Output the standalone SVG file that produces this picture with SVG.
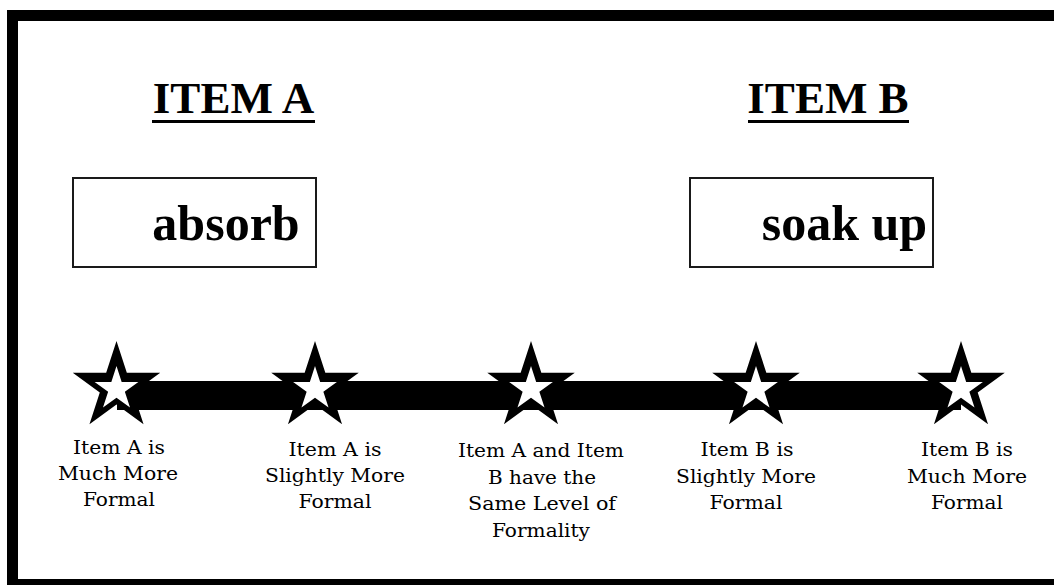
<svg xmlns="http://www.w3.org/2000/svg" xmlns:xlink="http://www.w3.org/1999/xlink" width="1054" height="585" viewBox="0 0 1054 585">
<style>
.head{font-family:"Liberation Serif","Times New Roman",serif;font-weight:bold;font-size:45px;fill:#000;text-anchor:middle}
.word{font-family:"Liberation Serif","Times New Roman",serif;font-weight:bold;font-size:50px;fill:#000;text-anchor:middle}
.lbl{font-family:"DejaVu Serif","Liberation Serif",serif;font-size:19px;fill:#000;text-anchor:middle}
.box{fill:#fff;stroke:#1a1a1a;stroke-width:2}
</style>
<defs>
<polygon id="starOuter" points="0,-46 10.33,-14.22 43.75,-14.21 16.71,5.43 27.04,37.21 0,17.57 -27.04,37.21 -16.71,5.43 -43.75,-14.21 -10.33,-14.22" fill="#000"/>
<polygon id="starInner" points="0,-23 5.17,-7.11 21.88,-7.11 8.36,2.72 13.52,18.61 0,8.79 -13.52,18.61 -8.36,2.72 -21.88,-7.11 -5.17,-7.11" fill="#fff"/>
<g id="star"><use xlink:href="#starOuter"/><use xlink:href="#starInner" y="2"/></g>
</defs>
<rect width="1054" height="585" fill="#fff"/>
<g id="frame" fill="#000">
<rect x="7" y="10" width="1047" height="11"/>
<rect x="7" y="10" width="11" height="575"/>
<rect x="7" y="579" width="1047" height="6"/>
</g>
<g id="heading-a"><text class="head" x="233.5" y="113">ITEM A</text><rect x="152" y="120" width="163" height="3" fill="#000"/></g>
<g id="heading-b"><text class="head" x="828" y="113">ITEM B</text><rect x="748" y="120" width="161" height="3" fill="#000"/></g>
<g id="box-a"><rect class="box" x="73" y="178" width="243" height="89"/><text class="word" x="226" y="240">absorb</text></g>
<g id="box-b"><rect class="box" x="690" y="178" width="243" height="89"/><text class="word" x="844.5" y="240">soak up</text></g>
<g id="connectors"><rect x="117" y="381" width="844" height="29" fill="#000"/></g>
<g id="star1"><use xlink:href="#star" x="116.5" y="387"/>
<text class="lbl"><tspan x="119" y="454" textLength="92" lengthAdjust="spacingAndGlyphs">Item A is</tspan><tspan x="118" y="480" textLength="120" lengthAdjust="spacingAndGlyphs">Much More</tspan><tspan x="119" y="506" textLength="72" lengthAdjust="spacingAndGlyphs">Formal</tspan></text></g>
<g id="star2"><use xlink:href="#star" x="315" y="387"/>
<text class="lbl"><tspan x="335" y="456" textLength="93" lengthAdjust="spacingAndGlyphs">Item A is</tspan><tspan x="335" y="482" textLength="140" lengthAdjust="spacingAndGlyphs">Slightly More</tspan><tspan x="335" y="508" textLength="73" lengthAdjust="spacingAndGlyphs">Formal</tspan></text></g>
<g id="star3"><use xlink:href="#star" x="531" y="387"/>
<text class="lbl"><tspan x="541" y="457" textLength="166" lengthAdjust="spacingAndGlyphs">Item A and Item</tspan><tspan x="542" y="483.5" textLength="108" lengthAdjust="spacingAndGlyphs">B have the</tspan><tspan x="542" y="510" textLength="148" lengthAdjust="spacingAndGlyphs">Same Level of</tspan><tspan x="541" y="536.5" textLength="98" lengthAdjust="spacingAndGlyphs">Formality</tspan></text></g>
<g id="star4"><use xlink:href="#star" x="756" y="387"/>
<text class="lbl"><tspan x="747" y="456" textLength="93" lengthAdjust="spacingAndGlyphs">Item B is</tspan><tspan x="746" y="482.5" textLength="140" lengthAdjust="spacingAndGlyphs">Slightly More</tspan><tspan x="746" y="509" textLength="73" lengthAdjust="spacingAndGlyphs">Formal</tspan></text></g>
<g id="star5"><use xlink:href="#star" x="961" y="387"/>
<text class="lbl"><tspan x="967" y="456" textLength="92" lengthAdjust="spacingAndGlyphs">Item B is</tspan><tspan x="967" y="482.5" textLength="120" lengthAdjust="spacingAndGlyphs">Much More</tspan><tspan x="967" y="509" textLength="72" lengthAdjust="spacingAndGlyphs">Formal</tspan></text></g>
</svg>
